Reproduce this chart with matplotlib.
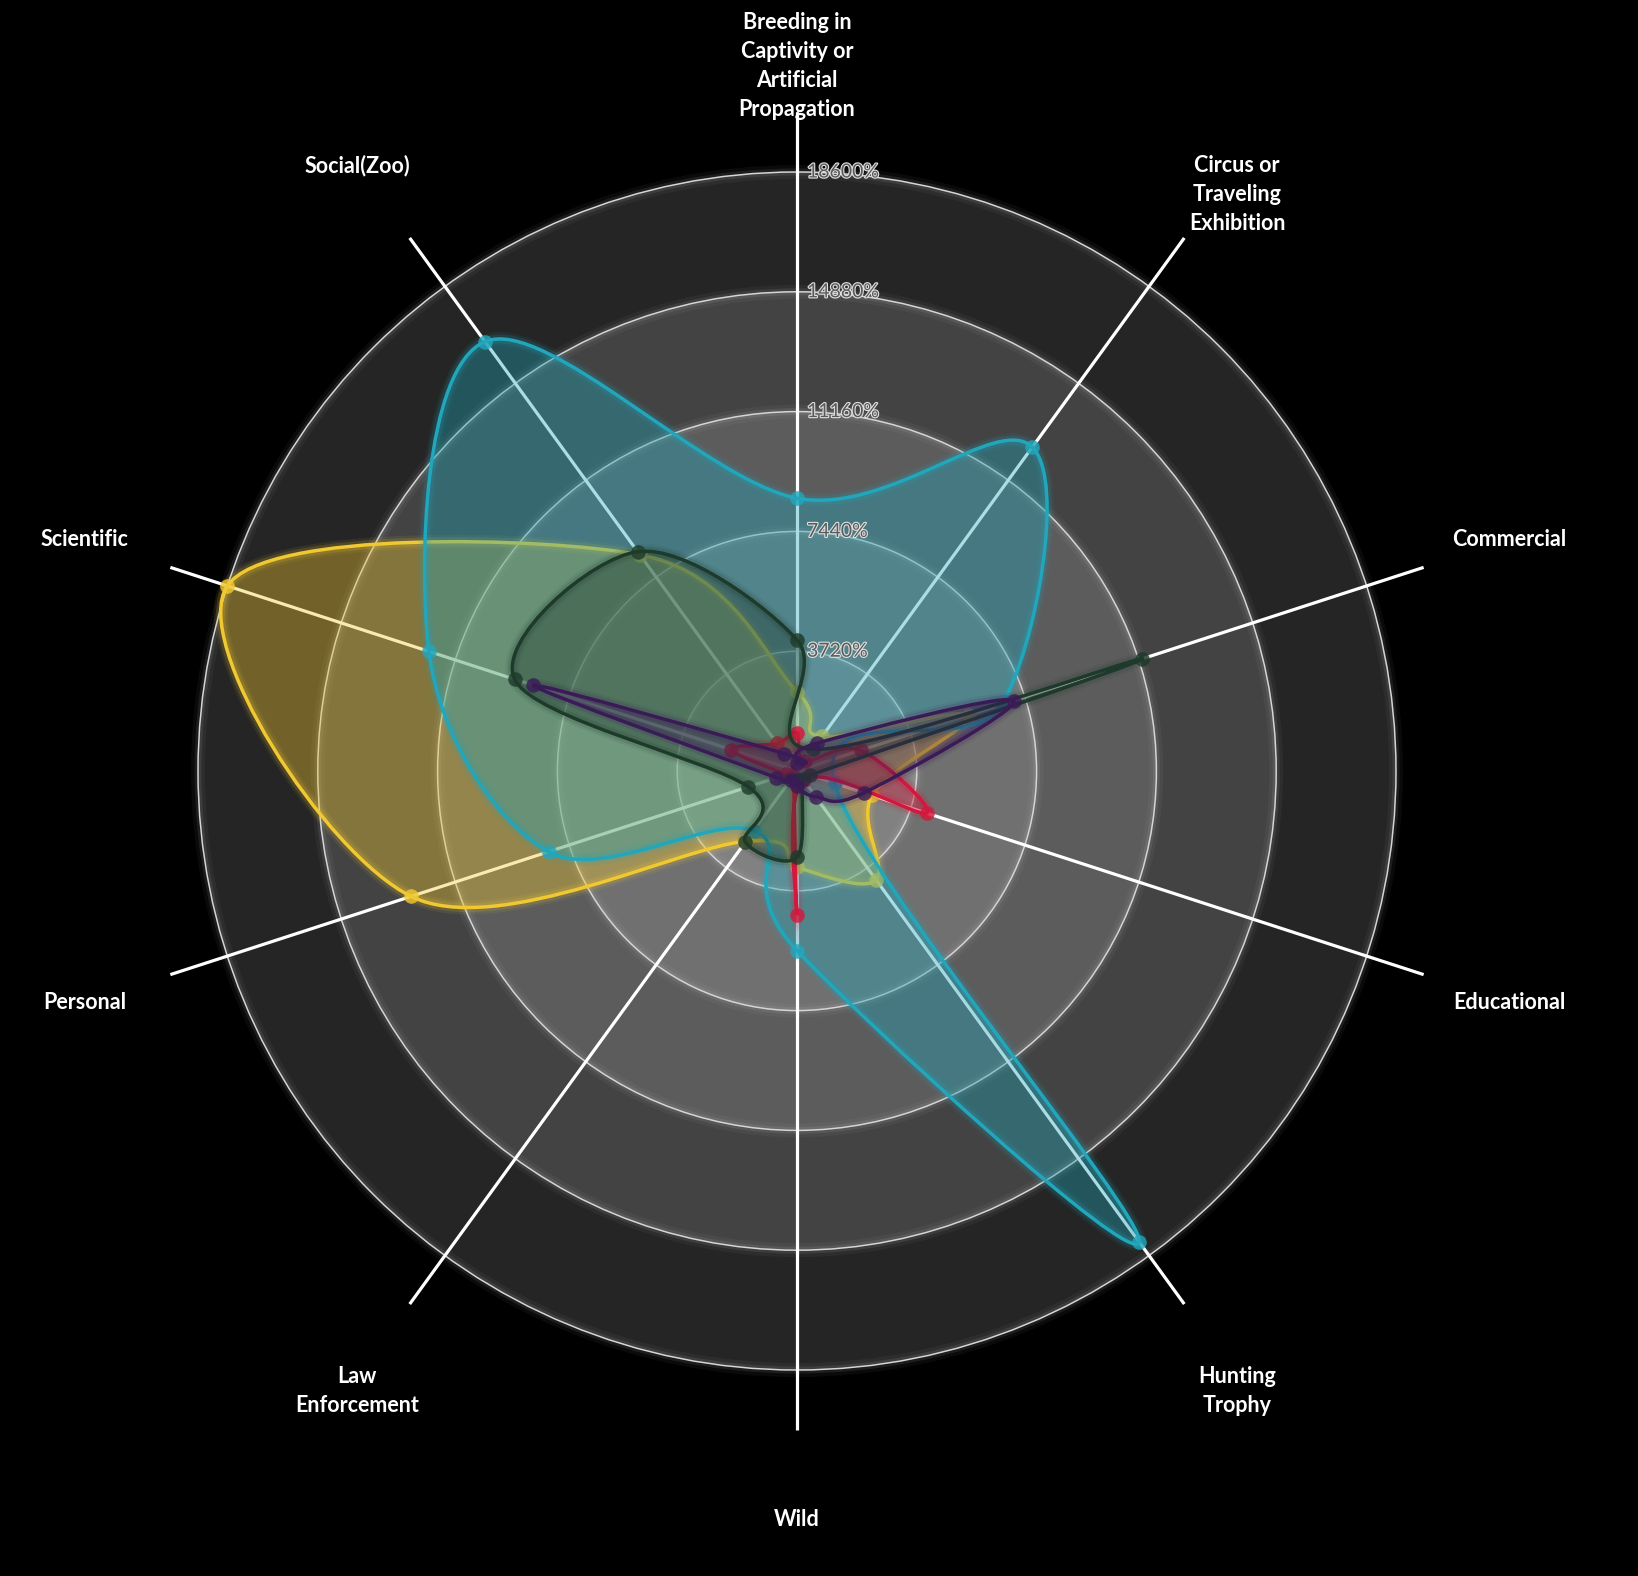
import numpy as np
import matplotlib.pyplot as plt
from matplotlib.path import Path
from matplotlib.patches import PathPatch, Circle
import matplotlib.patheffects as pe

# Categorias (sentido horario desde arriba)
categories = [
    "Breeding in\nCaptivity or\nArtificial\nPropagation",
    "Circus or\nTraveling\nExhibition",
    "Commercial",
    "Educational",
    "Hunting\nTrophy",
    "Wild",
    "Law\nEnforcement",
    "Personal",
    "Scientific",
    "Social(Zoo)",
]

# Valores de cada serie (en %)
yellow_vals = [2460, 1330, 5600, 2450, 4180, 2990, 2700, 12600, 18600, 8300]
cyan_vals = [8470, 12430, 6700, 1230, 18080, 5580, 2290, 8110, 12020, 16480]
red_vals = [1190, 400, 2080, 4230, 350, 4470, 200, 350, 2150, 1060]
green_vals = [4070, 830, 11280, 420, 300, 2680, 2730, 1590, 9220, 8420]
purple_vals = [260, 1070, 7070, 2190, 990, 470, 340, 670, 8610, 670]

max_value = 18600
levels = 5
tick_labels = ["3720%", "7440%", "11160%", "14880%", "18600%"]

series = [
    (yellow_vals, "#f0c832"),
    (cyan_vals, "#22a6bb"),
    (red_vals, "#d4173c"),
    (green_vals, "#1e3a2b"),
    (purple_vals, "#3a1b56"),
]

# Geometria de la figura (pixeles)
W, H, DPI = 1638, 1576, 100
cx, cy, R = 797, 771, 599
scale = R / max_value

fig = plt.figure(figsize=(W / DPI, H / DPI), dpi=DPI, facecolor="black")
ax = fig.add_axes([0, 0, 1, 1])
ax.set_facecolor("black")
ax.set_xlim(-cx / scale, (W - cx) / scale)
ax.set_ylim(-(H - cy) / scale, cy / scale)
ax.axis("off")

n = len(categories)
angles = 2 * np.pi * np.arange(n) / n


def to_xy(vals):
    v = np.asarray(vals, dtype=float)
    return v * np.sin(angles), v * np.cos(angles)


def cardinal_closed(x, y):
    # curva cardinal cerrada (tension 0) como beziers cubicos
    P = np.column_stack([x, y])
    m = len(P)
    verts = [P[0]]
    codes = [Path.MOVETO]
    for i in range(m):
        p0, p1, p2, p3 = P[i - 1], P[i], P[(i + 1) % m], P[(i + 2) % m]
        c1 = p1 + (p2 - p0) / 6
        c2 = p2 - (p3 - p1) / 6
        verts += [c1, c2, p2]
        codes += [Path.CURVE4] * 3
    verts.append(P[0])
    codes.append(Path.CLOSEPOLY)
    return Path(verts, codes)


# Circulos de fondo
for lv in range(levels, 0, -1):
    r = max_value * lv / levels
    ax.add_patch(Circle((0, 0), r, facecolor="#cdcdcd", alpha=0.185, lw=0, zorder=1))
    for lw, a in [(10, 0.05), (5, 0.1)]:
        ax.add_patch(Circle((0, 0), r, fill=False, ec="#cdcdcd", lw=lw, alpha=a, zorder=1))
    ax.add_patch(Circle((0, 0), r, fill=False, ec="#d5d5d5", lw=1.1, zorder=1))

# Etiquetas de los niveles
for lv in range(1, levels + 1):
    ax.text(10 / scale, max_value * lv / levels, tick_labels[lv - 1],
            fontsize=14, family="Lato", color="#5a5a5a", ha="left", va="center",
            zorder=10,
            path_effects=[pe.Stroke(linewidth=1.6, foreground="#e0e0e0"), pe.Normal()])

# Ejes
ax_end = max_value * 1.1
for a in angles:
    ax.plot([0, ax_end * np.sin(a)], [0, ax_end * np.cos(a)], color="white", lw=2.3,
            solid_capstyle="butt", zorder=2)

# Etiquetas de los ejes
fs = 15.5
lab_r = max_value * 1.25
for a, lab in zip(angles, categories):
    lx, ly = lab_r * np.sin(a), lab_r * np.cos(a)
    for j, line in enumerate(lab.split("\n")):
        ax.annotate(line, (lx, ly), xytext=(0, -j * 1.35 * fs), textcoords="offset points",
                    ha="center", va="center", fontsize=fs, family="Lato",
                    fontweight="bold", color="white", zorder=10)

# Series
z = 3
for vals, col in series:
    x, y = to_xy(vals)
    path = cardinal_closed(x, y)
    ax.add_patch(PathPatch(path, facecolor=col, alpha=0.38, lw=0, zorder=z))
    for lw, a in [(10, 0.08), (6.5, 0.15)]:
        ax.add_patch(PathPatch(path, fill=False, ec=col, lw=lw, alpha=a, zorder=z))
    ax.add_patch(PathPatch(path, fill=False, ec=col, lw=2.5, zorder=z))
    ax.scatter(x, y, s=10.5 ** 2, color=col, alpha=0.8, lw=0, zorder=z)
    z += 1

fig.savefig("out.png", dpi=DPI, facecolor="black")
